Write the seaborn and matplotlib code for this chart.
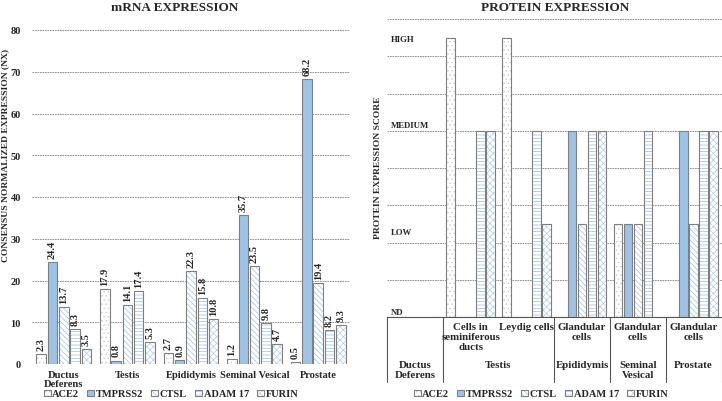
import numpy as np
import pandas as pd
import matplotlib
matplotlib.use("Agg")
import matplotlib.pyplot as plt
import matplotlib.transforms as mtrans
from matplotlib.colors import to_rgba
import seaborn as sns

# ---------------- data ----------------
genes = ["ACE2", "TMPRSS2", "CTSL", "ADAM 17", "FURIN"]

tissues = ["Ductus\nDeferens", "Testis", "Epididymis", "Seminal Vesical", "Prostate"]
mrna_ace2 = [2.3, 17.9, 2.7, 1.2, 0.5]
mrna_tmprss2 = [24.4, 0.8, 0.9, 35.7, 68.2]
mrna_ctsl = [13.7, 14.1, 22.3, 23.5, 19.4]
mrna_adam17 = [8.3, 17.4, 15.8, 9.8, 8.2]
mrna_furin = [3.5, 5.3, 10.8, 4.7, 9.3]

cell_types = ["", "Cells in\nseminiferous\nducts", "Leydig cells",
              "Glandular\ncells", "Glandular\ncells", "Glandular\ncells"]
cell_tissues = ["Ductus\nDeferens", "Testis", "Testis", "Epididymis",
                "Seminal\nVesical", "Prostate"]
prot_ace2 = [0, 3, 3, 0, 1, 0]
prot_tmprss2 = [0, 0, 0, 2, 1, 2]
prot_ctsl = [0, 0, 0, 1, 1, 1]
prot_adam17 = [0, 2, 2, 2, 2, 2]
prot_furin = [0, 2, 1, 2, 0, 2]

score_labels = ["ND", "LOW", "MEDIUM", "HIGH"]
score_values = [0, 1, 2, 3]

mrna_ticks = [0, 10, 20, 30, 40, 50, 60, 70, 80]

# ---------------- style ----------------
sns.set_theme(style="white")
plt.rcParams["font.family"] = ["Liberation Serif", "DejaVu Serif"]
plt.rcParams["font.weight"] = "bold"
plt.rcParams["hatch.linewidth"] = 0.45

BLUE = "#9DC3E6"
EDGE = "#7f7f7f"
face = {"ACE2": "white", "TMPRSS2": BLUE, "CTSL": "white", "ADAM 17": "white", "FURIN": "white"}
hatch = {"ACE2": "....", "TMPRSS2": "", "CTSL": "\\\\\\\\\\\\", "ADAM 17": "-----", "FURIN": "xxxxx"}
hcol = {"ACE2": "#c8c8c8", "TMPRSS2": BLUE, "CTSL": "#8fbbe3", "ADAM 17": "#8fbbe3", "FURIN": "#a9cbea"}

mrna_vals = [mrna_ace2, mrna_tmprss2, mrna_ctsl, mrna_adam17, mrna_furin]
prot_vals = [prot_ace2, prot_tmprss2, prot_ctsl, prot_adam17, prot_furin]

df_m = pd.DataFrame([(t, g, v[i]) for g, v in zip(genes, mrna_vals) for i, t in enumerate(tissues)],
                    columns=["tissue", "gene", "nx"])
cell_keys = [f"c{i}" for i in range(len(cell_types))]
df_p = pd.DataFrame([(c, g, v[i]) for g, v in zip(genes, prot_vals) for i, c in enumerate(cell_keys)],
                    columns=["cell", "gene", "score"])

W, H = 722, 402
fig = plt.figure(figsize=(W / 100, H / 100), dpi=100)
ax1 = fig.add_axes([32 / W, (H - 365) / H, (350 - 32) / W, (365 - 31) / H])
ax2 = fig.add_axes([387 / W, (H - 318) / H, (721.5 - 387) / W, (318 - 20) / H])


def style_bars(ax):
    for g, cont in zip(genes, ax.containers):
        for p in cont:
            p.set_edgecolor(EDGE)
            p.set_linewidth(0.8)
            p.set_hatch(hatch[g])
            try:
                p.set_hatchcolor(hcol[g])
            except AttributeError:
                p._hatch_color = to_rgba(hcol[g])


legend_kw = dict(loc="center", bbox_transform=fig.transFigure, ncol=5, frameon=False,
                 prop={"family": "Liberation Serif", "weight": "bold", "size": 7.5},
                 handlelength=0.65, handleheight=0.45, handletextpad=0.15, columnspacing=0.8,
                 borderaxespad=0, borderpad=0)

# ---------------- mRNA chart ----------------
sns.barplot(data=df_m, x="tissue", y="nx", hue="gene", order=tissues, hue_order=genes,
            palette=face, saturation=1, width=0.89, gap=0.16, errorbar=None,
            legend=False, ax=ax1)
style_bars(ax1)
for cont in ax1.containers:
    ax1.bar_label(cont, fmt="%.1f", rotation=90, padding=3, fontsize=7.5, fontweight="bold")

ax1.set_ylim(0, 80)
ax1.set_xlim(-0.5, len(tissues) - 0.5)
ax1.set_yticks(mrna_ticks)
ax1.set_yticklabels([str(t) for t in mrna_ticks], fontsize=7.5, fontweight="bold")
ax1.tick_params(axis="y", length=0, pad=8)
ax1.tick_params(axis="x", length=0, pad=4, labelsize=7.6)
for lab in ax1.get_xticklabels():
    lab.set_fontweight("bold")
    lab.set_linespacing(1.1)
ax1.set_xlabel("")
ax1.set_ylabel("")
ax1.yaxis.grid(True, linestyle=(0, (2, 1)), color="#7f7f7f", linewidth=0.6)
ax1.set_axisbelow(True)
for s in ax1.spines.values():
    s.set_visible(False)

fig.text(5 / W, 1 - 155 / H, "CONSENSUS NORMALIZED EXPRESSION (NX)", rotation=90,
         ha="center", va="center", fontsize=6.8, fontweight="bold")
fig.text(175 / W, 1 - 8 / H, "mRNA EXPRESSION", ha="center", va="center",
         fontsize=9.5, fontweight="bold")

handles = [cont[0] for cont in ax1.containers]
ax1.legend(handles, genes, bbox_to_anchor=(171 / W, 1 - 395 / H), **legend_kw)

# ---------------- protein chart ----------------
sns.barplot(data=df_p, x="cell", y="score", hue="gene", order=cell_keys, hue_order=genes,
            palette=face, saturation=1, width=0.897, gap=0.15, errorbar=None,
            legend=False, ax=ax2)
style_bars(ax2)
ax2.set_ylim(0, 3.2)
ax2.set_xlim(-0.5, len(cell_keys) - 0.5)
ax2.set_yticks(np.arange(0, 3.21, 0.4))
ax2.set_yticklabels([])
ax2.set_xticks(range(len(cell_keys)))
ax2.set_xticklabels([])
ax2.tick_params(length=0)
ax2.set_xlabel("")
ax2.set_ylabel("")
ax2.yaxis.grid(True, linestyle=(0, (2, 1)), color="#7f7f7f", linewidth=0.6)
ax2.set_axisbelow(True)
for k in ["left", "right", "top"]:
    ax2.spines[k].set_visible(False)
ax2.spines["bottom"].set_color("#555555")
ax2.spines["bottom"].set_linewidth(0.8)

label_offsets = {"ND": 0.05, "LOW": -0.09, "MEDIUM": 0.06, "HIGH": -0.01}
for lab, val in zip(score_labels, score_values):
    ax2.text(0.012, val + label_offsets[lab], lab, transform=ax2.get_yaxis_transform(),
             ha="left", va="center", fontsize=6.3, fontweight="bold")

fig.text(378 / W, 1 - 168 / H, "PROTEIN EXPRESSION SCORE", rotation=90,
         ha="center", va="center", fontsize=6.8, fontweight="bold")
fig.text(555 / W, 1 - 8 / H, "PROTEIN EXPRESSION", ha="center", va="center",
         fontsize=9.5, fontweight="bold")

# category table below the protein axes
tr = mtrans.blended_transform_factory(ax2.transData, ax2.transAxes)
y_bot = -(383 - 318) / 298
row1 = -(323 - 318) / 298
row2 = -(361 - 318) / 298
runs = []
start = 0
for i in range(1, len(cell_tissues) + 1):
    if i == len(cell_tissues) or cell_tissues[i] != cell_tissues[start]:
        runs.append((start, i - 1, cell_tissues[start]))
        start = i
bounds = sorted({r[0] - 0.5 for r in runs} | {r[1] + 0.5 for r in runs})
for b in bounds:
    ax2.plot([b, b], [0, y_bot], transform=tr, color="#555555", lw=0.8, clip_on=False)
for i, ct in enumerate(cell_types):
    if ct:
        ax2.text(i, row1, ct, transform=tr, ha="center", va="top", fontsize=7.8,
                 fontweight="bold", linespacing=1.15)
for a, b, name in runs:
    ax2.text((a + b) / 2, row2, name, transform=tr, ha="center", va="top", fontsize=7.8,
             fontweight="bold", linespacing=1.15)

handles2 = [cont[1] for cont in ax2.containers]
ax2.legend(handles2, genes, bbox_to_anchor=(541 / W, 1 - 395 / H), **legend_kw)

fig.savefig("out.png", dpi=100)
